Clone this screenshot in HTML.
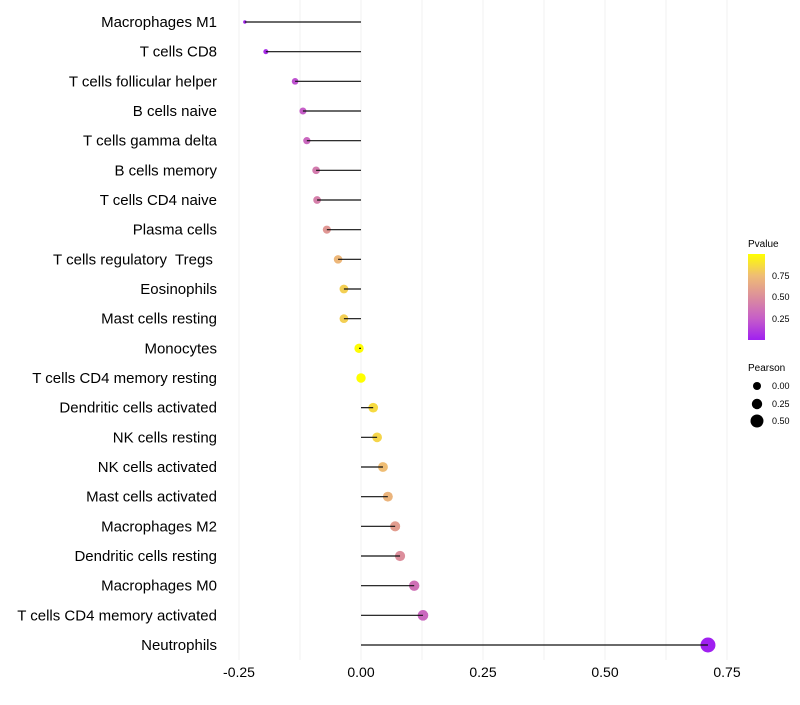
<!DOCTYPE html>
<html><head><meta charset="utf-8"><style>
body{margin:0;background:#fff;font-family:"Liberation Sans",sans-serif}
text{white-space:pre}
</style></head><body>
<svg id="c" width="800" height="700" xmlns="http://www.w3.org/2000/svg">
<defs><linearGradient id="pg" x1="0" y1="1" x2="0" y2="0">
<stop offset="0" stop-color="#a020f0"/><stop offset="0.25" stop-color="#c65ec8"/><stop offset="0.5" stop-color="#dc8e9c"/><stop offset="0.75" stop-color="#efbd74"/><stop offset="1" stop-color="#ffff00"/></linearGradient></defs>
<g id="grid"></g><g id="dots"></g><g id="marks"></g><g id="labels"></g>
<g font-size="10">
<text x="748" y="247">Pvalue</text>
<rect x="748" y="254" width="17" height="86" fill="url(#pg)"/>
<text x="772" y="279" font-size="9">0.75</text>
<text x="772" y="300" font-size="9">0.50</text>
<text x="772" y="322" font-size="9">0.25</text>
</g>
<g font-size="9">
<text x="748" y="371" font-size="10">Pearson</text>
<circle cx="757" cy="386" r="4"/><text x="772" y="389">0.00</text>
<circle cx="757" cy="404" r="5.2"/><text x="772" y="407">0.25</text>
<circle cx="757" cy="421" r="6.5"/><text x="772" y="424">0.50</text>
</g>
</svg>
<script>
const categories=["Macrophages M1","T cells CD8","T cells follicular helper","B cells naive","T cells gamma delta","B cells memory","T cells CD4 naive","Plasma cells","T cells regulatory  Tregs ","Eosinophils","Mast cells resting","Monocytes","T cells CD4 memory resting","Dendritic cells activated","NK cells resting","NK cells activated","Mast cells activated","Macrophages M2","Dendritic cells resting","Macrophages M0","T cells CD4 memory activated","Neutrophils"];
const pearson=[-0.238,-0.195,-0.135,-0.119,-0.111,-0.092,-0.09,-0.07,-0.047,-0.035,-0.035,-0.004,0.0,0.025,0.033,0.045,0.055,0.07,0.08,0.109,0.127,0.711];
const pvalues=[0.02,0.05,0.2,0.25,0.3,0.4,0.42,0.55,0.72,0.82,0.82,0.99,1.0,0.86,0.84,0.75,0.7,0.58,0.5,0.35,0.3,0.0];
const xticks=[-0.25,0,0.25,0.5,0.75];
const xtickLabels=["-0.25","0.00","0.25","0.50","0.75"];
const NS="http://www.w3.org/2000/svg";
const x=v=>361+v*488;
const y=i=>22+i*(623/21);
const stops=[[0,[160,32,240]],[0.25,[198,94,200]],[0.5,[220,142,156]],[0.75,[239,189,116]],[1,[255,255,0]]];
function col(p){for(let k=1;k<stops.length;k++){if(p<=stops[k][0]){const a=stops[k-1],b=stops[k],t=(p-a[0])/(b[0]-a[0]);return "rgb("+a[1].map((c,j)=>Math.round(c+(b[1][j]-c)*t)).join(",")+")";}}return "rgb(255,255,0)";}
const rad=v=>Math.sqrt(Math.max(2.3,22+80*Math.min(v,0)+48*Math.max(v,0)));
function mk(t,a,p){const e=document.createElementNS(NS,t);for(const k in a)e.setAttribute(k,a[k]);p.appendChild(e);return e;}
const grid=document.getElementById('grid'),dots=document.getElementById('dots'),marks=document.getElementById('marks'),labels=document.getElementById('labels');
for(let v=-0.25;v<=0.76;v+=0.125){const g=mk('line',{x1:x(v),x2:x(v),y1:0,y2:660,stroke:'#f0f0f0','stroke-width':1},grid);

}
xticks.forEach((v,i)=>{const t=mk('text',{x:x(v),y:677,'text-anchor':'middle','font-size':14},labels);t.textContent=xtickLabels[i];

});
categories.forEach((c,i)=>{
const t=mk('text',{x:217,y:y(i)+5,'text-anchor':'end','font-size':15},labels);t.textContent=c;


const d=mk('circle',{cx:x(pearson[i]),cy:y(i),r:rad(pearson[i]),fill:col(pvalues[i])},dots);


const l=mk('line',{x1:x(0),x2:x(pearson[i]),y1:y(i),y2:y(i),stroke:'#111','stroke-width':1.2},marks);


});
</script>
</body></html>
